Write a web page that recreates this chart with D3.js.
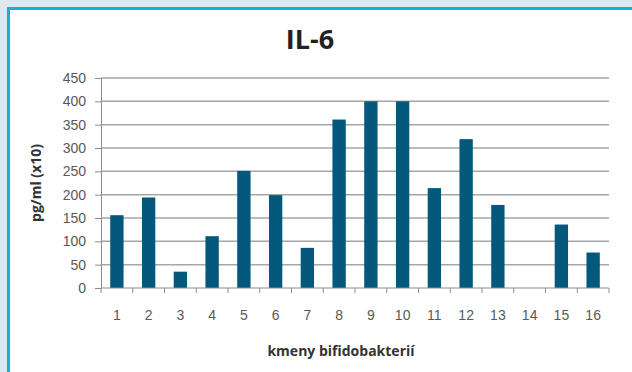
<!DOCTYPE html>
<html>
<head>
<meta charset="utf-8">
<script src="https://cdn.jsdelivr.net/npm/d3@7"></script>
<style>
  body { margin: 0; background: #dfe8ee; }
  svg { display: block; font-family: "Open Sans", Lato, sans-serif; }
  .grid line { stroke: #a6a6a6; stroke-width: 1.5; }
  .axis path, .axis line { stroke: #8c8c8c; }
  .axis text { fill: #595959; font-size: 14px; }
</style>
</head>
<body>
<script>
var w = 632;
var h = 372;

var categories = ["1", "2", "3", "4", "5", "6", "7", "8", "9", "10", "11", "12", "13", "14", "15", "16"];
var values = [156, 194, 35, 111, 251, 199, 86, 361, 400, 400, 214, 319, 178, 0, 136, 76];
var yTicks = [0, 50, 100, 150, 200, 250, 300, 350, 400, 450];

var plot = { left: 101, right: 609, top: 78, bottom: 288 };

var svg = d3.select("body")
	.append("svg")
	.attr("width", w)
	.attr("height", h);

//Panel with blue frame
svg.append("rect")
	.attr("x", 8.5).attr("y", 8.5)
	.attr("width", w).attr("height", h)
	.attr("fill", "#fff")
	.attr("stroke", "#12aee8")
	.attr("stroke-width", 3);

//Scales
var xScale = d3.scaleBand()
	.domain(categories)
	.range([plot.left, plot.right])
	.paddingInner(0.58)
	.paddingOuter(0.29);

var yScale = d3.scaleLinear()
	.domain([0, 450])
	.range([plot.bottom, plot.top]);

//Gridlines
svg.append("g")
	.attr("class", "grid")
	.selectAll("line")
	.data(yTicks.slice(1))
	.enter()
	.append("line")
	.attr("x1", plot.left)
	.attr("x2", plot.right)
	.attr("y1", function(d) { return yScale(d); })
	.attr("y2", function(d) { return yScale(d); });

//Bars
svg.append("g")
	.selectAll("rect")
	.data(values)
	.enter()
	.append("rect")
	.attr("x", function(d, i) { return xScale(categories[i]); })
	.attr("y", function(d) { return yScale(d); })
	.attr("width", xScale.bandwidth())
	.attr("height", function(d) { return plot.bottom - yScale(d); })
	.attr("fill", "#03587b");

//Y axis
var yAxis = d3.axisLeft(yScale)
	.tickValues(yTicks)
	.tickSize(6)
	.tickSizeOuter(0)
	.tickPadding(9);
svg.append("g")
	.attr("class", "axis")
	.attr("transform", "translate(" + plot.left + ",0)")
	.call(yAxis);

//X axis - ticks at category boundaries
var xAxis = d3.axisBottom(xScale)
	.tickSize(0)
	.tickPadding(22);
var gx = svg.append("g")
	.attr("class", "axis")
	.attr("transform", "translate(0," + plot.bottom + ")")
	.call(xAxis);
gx.select(".domain").attr("d", "M" + plot.left + ",0H" + plot.right);
var step = xScale.step();
gx.selectAll(".boundary")
	.data(d3.range(categories.length + 1))
	.enter()
	.append("line")
	.attr("x1", function(i) { return plot.left + i * step; })
	.attr("x2", function(i) { return plot.left + i * step; })
	.attr("y1", 0)
	.attr("y2", 5)
	.attr("stroke", "#8c8c8c");

//Title
svg.append("text")
	.attr("x", 310)
	.attr("y", 49)
	.attr("text-anchor", "middle")
	.attr("font-size", "27px")
	.attr("font-weight", "bold")
	.attr("fill", "#222")
	.text("IL-6");

//Axis titles
svg.append("text")
	.attr("transform", "translate(41," + ((plot.top + plot.bottom) / 2) + ") rotate(-90)")
	.attr("text-anchor", "middle")
	.attr("font-size", "14px")
	.attr("font-weight", "bold")
	.attr("fill", "#333")
	.text("pg/ml (x10)");

svg.append("text")
	.attr("x", 341)
	.attr("y", 356)
	.attr("text-anchor", "middle")
	.attr("font-size", "14px")
	.attr("font-weight", "bold")
	.attr("fill", "#333")
	.text("kmeny bifidobakterií");
</script>
</body>
</html>
